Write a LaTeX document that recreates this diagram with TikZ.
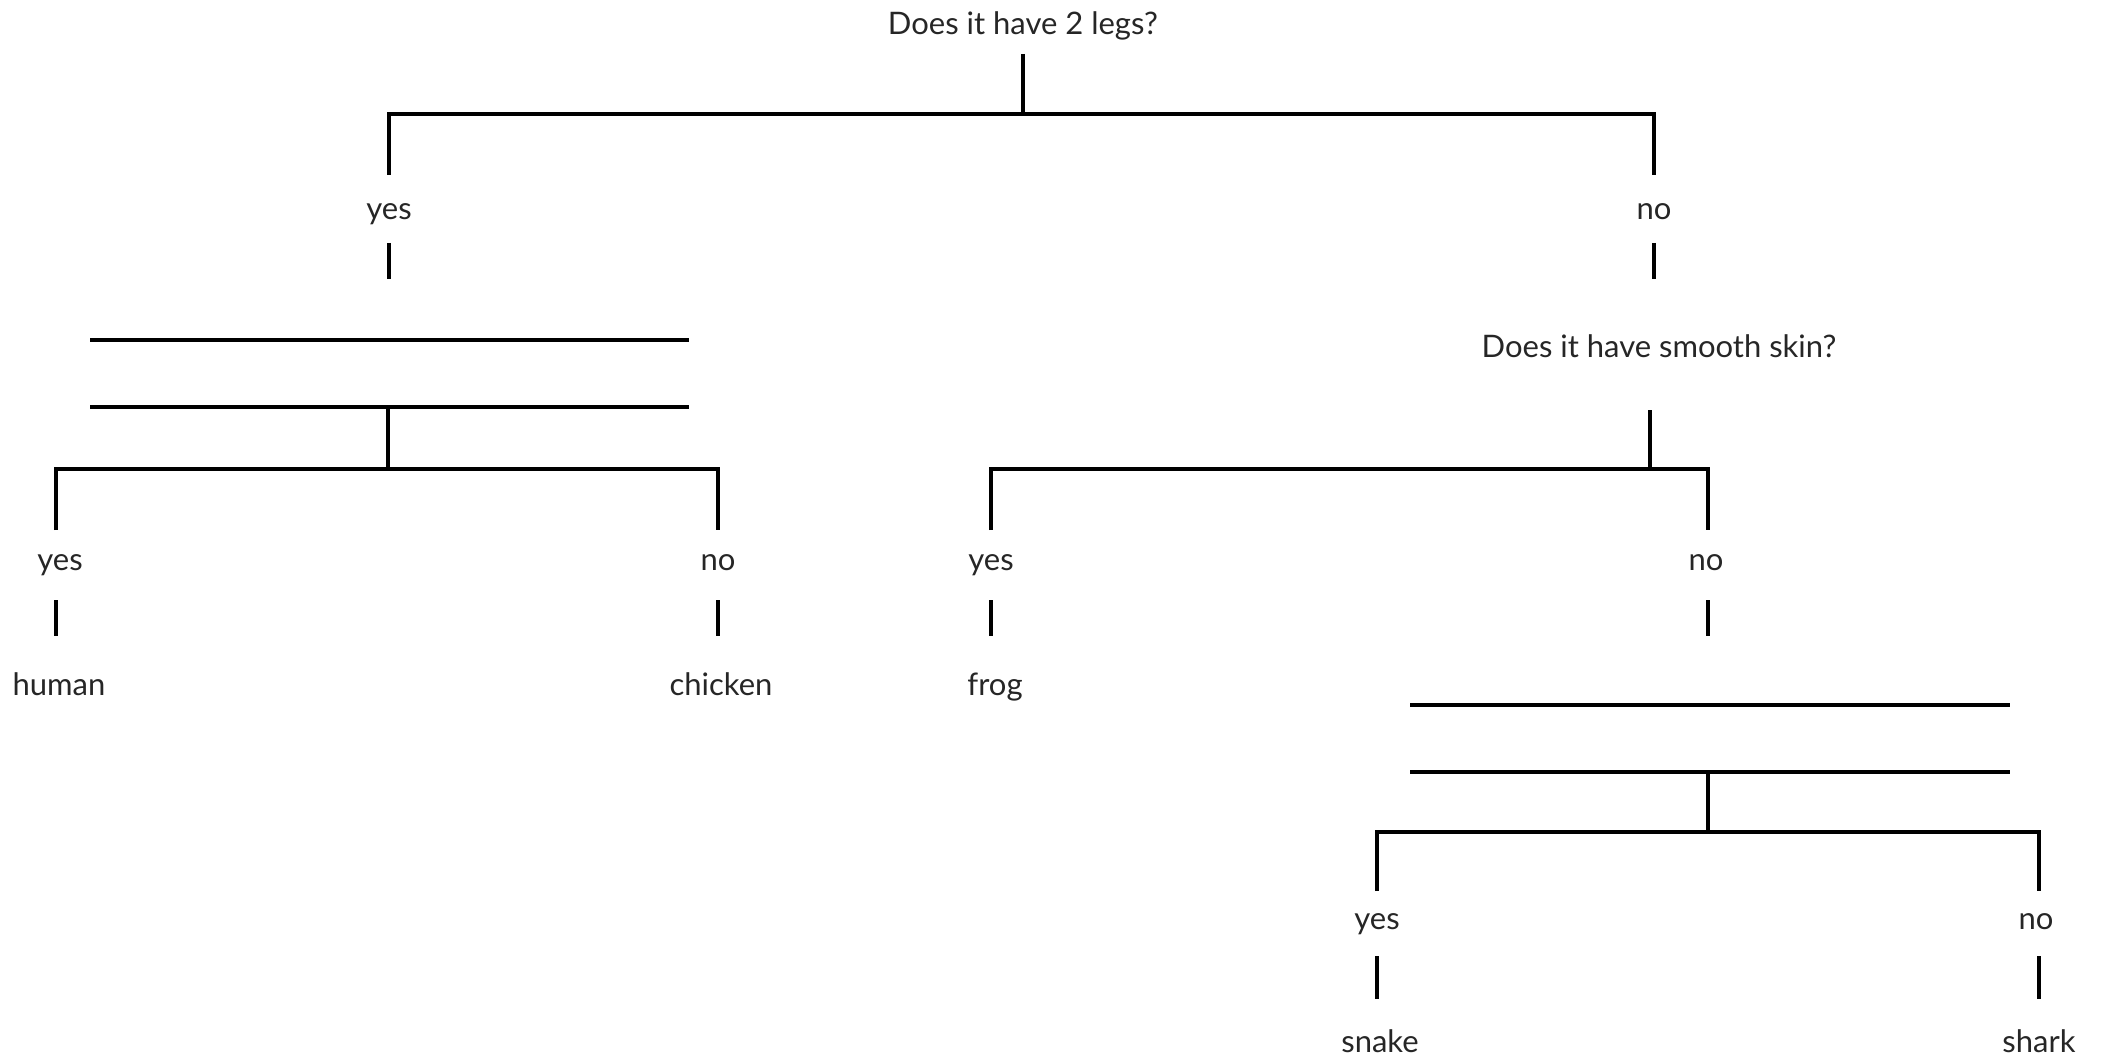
\documentclass[tikz,border=0pt]{standalone}
\usepackage{fontspec}
\setmainfont{Lato}
\begin{document}
\begin{tikzpicture}[x=1pt,y=-1pt,
  lbl/.style={anchor=base,inner sep=0pt,font=\fontsize{31}{36}\selectfont,text=black!85},
  ln/.style={line width=4pt,black,line join=miter},
  blank/.style={line width=3.6pt,black}]
\useasboundingbox (0,0) rectangle (2105,1059);
% texts
\node[lbl] (q1) at (1023,35) {Does it have 2 legs?};
\node[lbl] (y1) at (389,220) {yes};
\node[lbl] (n1) at (1654,220) {no};
\node[lbl] (q2) at (1659,358) {Does it have smooth skin?};
\node[lbl] (y2) at (60,570) {yes};
\node[lbl] (n2) at (718,570) {no};
\node[lbl] (human) at (59,695) {human};
\node[lbl] (chicken) at (721,695) {chicken};
\node[lbl] (y3) at (991,570) {yes};
\node[lbl] (n3) at (1706,570) {no};
\node[lbl] (frog) at (995,695) {frog};
\node[lbl] (y4) at (1377,929) {yes};
\node[lbl] (n4) at (2036,929) {no};
\node[lbl] (snake) at (1380,1052) {snake};
\node[lbl] (shark) at (2039,1052) {shark};
% root
\draw[ln] (1023,54) -- (1023,114);
\draw[ln] (389,175) -- (389,114) -- (1654,114) -- (1654,175);
\draw[ln] (389,243) -- (389,279);
\draw[ln] (1654,243) -- (1654,279);
% left question (blank)
\draw[blank] (90,340) -- (689,340);
\draw[blank] (90,407) -- (689,407);
\draw[ln] (388,407) -- (388,469);
\draw[ln] (56,530) -- (56,469) -- (718,469) -- (718,530);
\draw[ln] (56,600) -- (56,636);
\draw[ln] (718,600) -- (718,636);
% smooth skin
\draw[ln] (1650,410) -- (1650,469);
\draw[ln] (991,530) -- (991,469) -- (1708,469) -- (1708,530);
\draw[ln] (991,600) -- (991,636);
\draw[ln] (1708,600) -- (1708,636);
% lower right question (blank)
\draw[blank] (1410,705) -- (2010,705);
\draw[blank] (1410,772) -- (2010,772);
\draw[ln] (1708,772) -- (1708,832);
\draw[ln] (1377,891) -- (1377,832) -- (2039,832) -- (2039,891);
\draw[ln] (1377,956) -- (1377,999);
\draw[ln] (2039,956) -- (2039,999);
\end{tikzpicture}
\end{document}
